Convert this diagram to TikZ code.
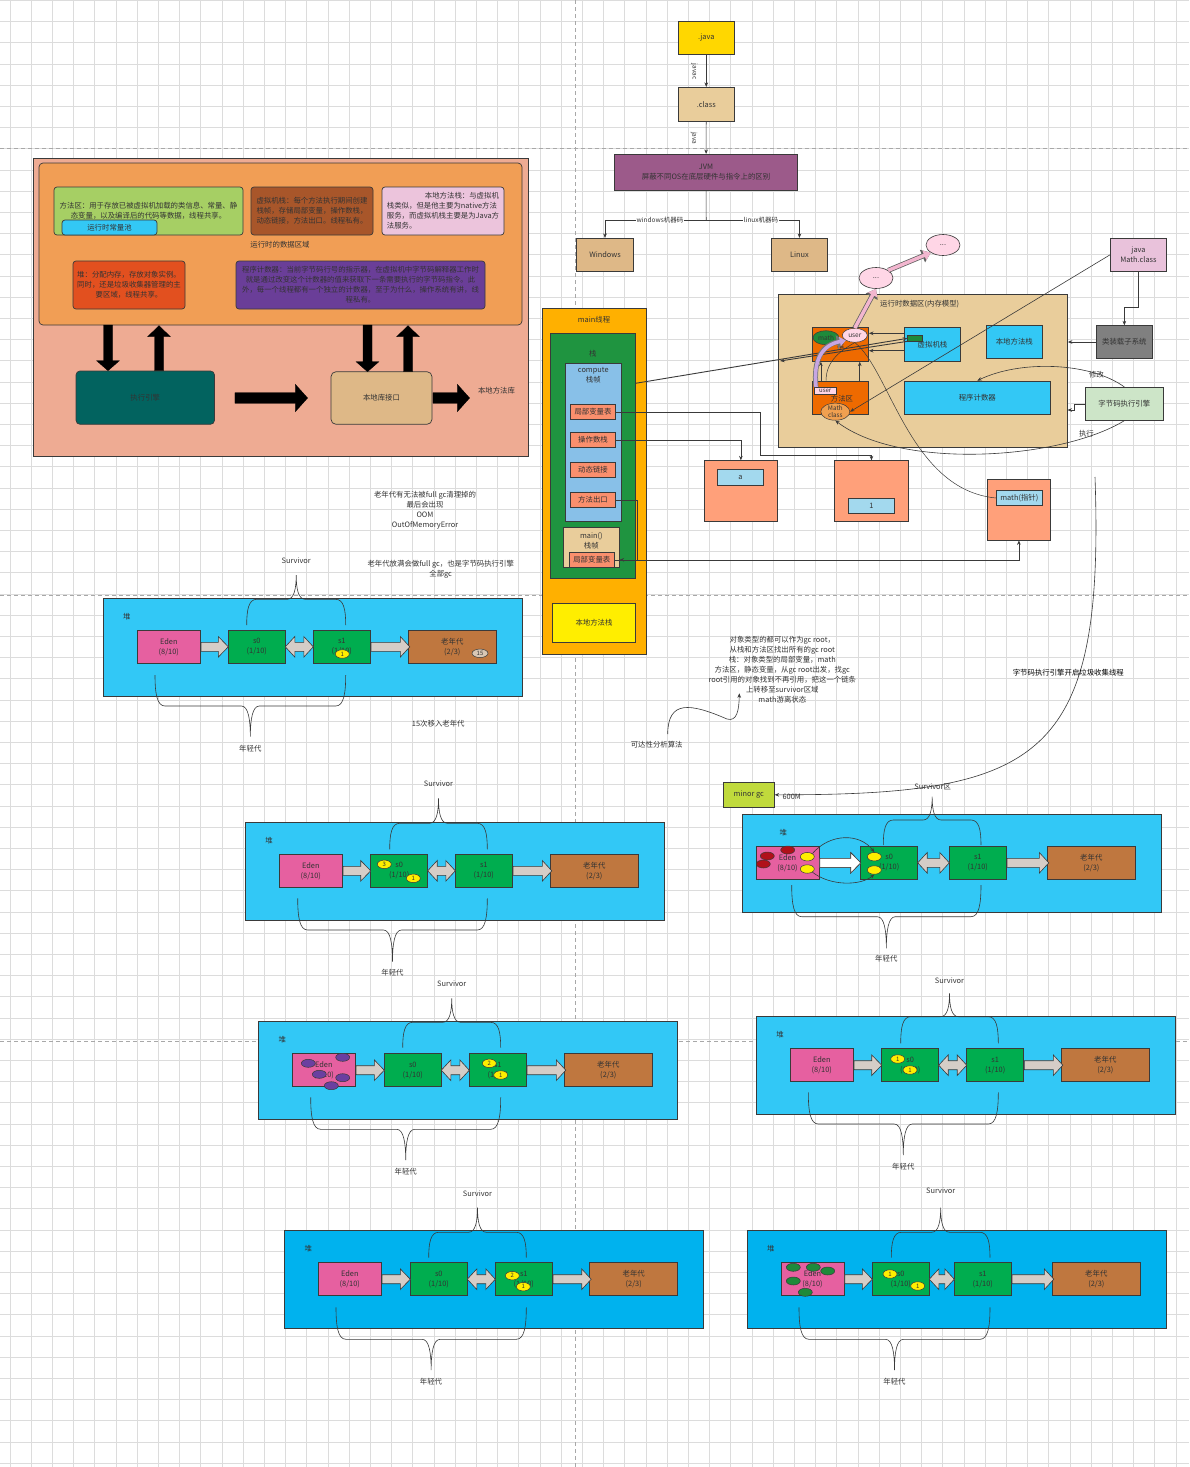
\documentclass[tikz,border=0pt]{standalone}
\usepackage{fontspec}
\setmainfont{Noto Sans CJK SC}
\usetikzlibrary{arrows.meta,shapes.geometric,calc}
\definecolor{txt}{HTML}{333333}
\definecolor{bord}{HTML}{3A3A3A}
\definecolor{gridc}{HTML}{DCDCDC}
\definecolor{dashc}{HTML}{A8A8A8}
\definecolor{salmonbg}{HTML}{EEAB93}
\definecolor{orangein}{HTML}{F19E55}
\definecolor{greenA}{HTML}{A6CF64}
\definecolor{cyanA}{HTML}{33C8F5}
\definecolor{brownA}{HTML}{A8562A}
\definecolor{pinkA}{HTML}{ECC4DC}
\definecolor{redA}{HTML}{E2501F}
\definecolor{purpleA}{HTML}{6A3E98}
\definecolor{tealA}{HTML}{02635F}
\definecolor{tanB}{HTML}{DEB887}
\definecolor{goldA}{HTML}{FFD700}
\definecolor{tanA}{HTML}{E9CD9B}
\definecolor{jvmc}{HTML}{9C5A8A}
\definecolor{pinkE}{HTML}{FFD6E6}
\definecolor{pinkM}{HTML}{E9C2DB}
\definecolor{orangeR}{HTML}{EE6A00}
\definecolor{orangeM}{HTML}{F0A050}
\definecolor{greenE}{HTML}{1E8A3A}
\definecolor{grayA}{HTML}{808080}
\definecolor{greenL}{HTML}{CDE5C8}
\definecolor{orangeT}{HTML}{FFB000}
\definecolor{greenS}{HTML}{1F9440}
\definecolor{blueC}{HTML}{88C0E8}
\definecolor{salmonV}{HTML}{FA8F6D}
\definecolor{yellowN}{HTML}{FFEE00}
\definecolor{salmonO}{HTML}{FFA07A}
\definecolor{blueI}{HTML}{A3D9EE}
\definecolor{limeA}{HTML}{C0DA3C}
\definecolor{heapc}{HTML}{32C8F6}
\definecolor{heapd}{HTML}{00B2EE}
\definecolor{edenc}{HTML}{E660A0}
\definecolor{survc}{HTML}{00AD4F}
\definecolor{oldc}{HTML}{BF773F}
\definecolor{garr}{HTML}{D5CDC7}
\definecolor{yelc}{HTML}{FFEE00}
\definecolor{purpE}{HTML}{6B3FA0}
\definecolor{redE}{HTML}{B0101A}
\definecolor{pinkArr}{HTML}{F2B6CF}
\definecolor{lavArr}{HTML}{C7A6E2}
\definecolor{ageC}{HTML}{D9C7B5}

% box from corners
\newcommand\bx[7]{\node[#6, minimum width={(#4)-(#2)}, minimum height={(#5)-(#3)}] (#1) at ({((#2)+(#4))/2},{((#3)+(#5))/2}) {#7};}
% block arrows
\newcommand\blockR[7]{\draw[#7] (#1,{(#3)-(#4)}) -- ({(#2)-(#6)},{(#3)-(#4)}) -- ({(#2)-(#6)},{(#3)-(#5)}) -- (#2,#3) -- ({(#2)-(#6)},{(#3)+(#5)}) -- ({(#2)-(#6)},{(#3)+(#4)}) -- (#1,{(#3)+(#4)}) -- cycle;}
\newcommand\blockLR[7]{\draw[#7] (#1,#3) -- ({(#1)+(#6)},{(#3)-(#5)}) -- ({(#1)+(#6)},{(#3)-(#4)}) -- ({(#2)-(#6)},{(#3)-(#4)}) -- ({(#2)-(#6)},{(#3)-(#5)}) -- (#2,#3) -- ({(#2)-(#6)},{(#3)+(#5)}) -- ({(#2)-(#6)},{(#3)+(#4)}) -- ({(#1)+(#6)},{(#3)+(#4)}) -- ({(#1)+(#6)},{(#3)+(#5)}) -- cycle;}
\newcommand\blockD[7]{\draw[#7] ({(#1)-(#4)},#2) -- ({(#1)+(#4)},#2) -- ({(#1)+(#4)},{(#3)-(#6)}) -- ({(#1)+(#5)},{(#3)-(#6)}) -- (#1,#3) -- ({(#1)-(#5)},{(#3)-(#6)}) -- ({(#1)-(#4)},{(#3)-(#6)}) -- cycle;}
\newcommand\blockU[7]{\draw[#7] ({(#1)-(#4)},#2) -- ({(#1)+(#4)},#2) -- ({(#1)+(#4)},{(#3)+(#6)}) -- ({(#1)+(#5)},{(#3)+(#6)}) -- (#1,#3) -- ({(#1)-(#5)},{(#3)+(#6)}) -- ({(#1)-(#4)},{(#3)+(#6)}) -- cycle;}
% curly brace: left x, right x, end y, base y, tip y
\newcommand\hbr[5]{%
 \pgfmathsetmacro\bcx{(#1+#2)/2}%
 \draw[brc] (#1,#3) .. controls (#1,{#4+0.4*(#3-#4)}) and ({#1+2},#4) .. ({#1+10},#4)
   -- ({\bcx-9},#4) .. controls ({\bcx-2},#4) and (\bcx,{#4+0.45*(#5-#4)}) .. (\bcx,#5)
   .. controls (\bcx,{#4+0.45*(#5-#4)}) and ({\bcx+2},#4) .. ({\bcx+9},#4)
   -- ({#2-10},#4) .. controls ({#2-2},#4) and (#2,{#4+0.4*(#3-#4)}) .. (#2,#3);}
% heap: prefix, box x, box y, eden x, s0 x, s1 x, old x, fill, dui offset
\newcommand\heap[9]{%
 \bx{#1box}{#2}{#3}{#2+419}{#3+98}{cell, fill=#8}{}
 \node (#1dui) at ({#2+#9},{#3+18}) {堆};
 \bx{#1eden}{#4}{#3+32}{#4+63}{#3+65}{cell, fill=edenc}{Eden\\(8/10)}
 \bx{#1sa}{#5}{#3+32}{#5+57}{#3+65}{cell, fill=survc}{s0\\(1/10)}
 \bx{#1sb}{#6}{#3+32}{#6+57}{#3+65}{cell, fill=survc}{s1\\(1/10)}
 \bx{#1old}{#7}{#3+32}{#7+88}{#3+65}{cell, fill=oldc}{老年代\\(2/3)}
 \blockR{#4+63.7}{#5}{#3+48.5}{4.5}{10.3}{10}{garrow}
 \blockLR{#5+57}{#6}{#3+48.5}{4.5}{10.3}{9.5}{garrow}
 \blockR{#6+57.7}{#7+1.5}{#3+48.5}{4.5}{10.3}{9.5}{garrow}
}

\begin{document}
\begin{tikzpicture}[x=1pt,y=-1pt,
  every node/.style={text=txt, font=\fontsize{7.4}{10}\selectfont, align=center},
  cell/.style={draw=bord, line width=0.7pt, inner sep=1pt},
  sml/.style={font=\fontsize{6.5}{7.5}\selectfont},
  conn/.style={draw=bord, line width=0.6pt},
  arr/.style={-{Stealth[length=4.5pt,width=3.6pt]}},
  blk/.style={fill=black, draw=black, line width=0.3pt},
  garrow/.style={fill=garr, draw=bord, line width=0.6pt},
  warrow/.style={fill=white, draw=bord, line width=0.6pt},
  brc/.style={draw=bord, line width=0.6pt},
  yel/.style={ellipse, draw=bord, fill=yelc, line width=0.5pt, minimum width=14pt, minimum height=8.5pt, inner sep=0pt, font=\fontsize{6}{6}\selectfont},
  dot/.style={ellipse, draw=bord, line width=0.5pt, minimum width=14pt, minimum height=8pt, inner sep=0pt},
  arrout/.style={draw=bord!80, line width=5pt, -{Triangle[length=9pt,width=13pt]}},
  pinkarr/.style={draw=pinkArr, line width=3.5pt, -{Triangle[length=7pt,width=10pt]}},
  lavarr/.style={draw=lavArr, line width=3.5pt, -{Triangle[length=6pt,width=9pt]}}
]
\useasboundingbox (0,0) rectangle (1189,1467);
\fill[white] (0,0) rectangle (1189,1467);
% grid
\foreach \i in {0,...,55} \draw[gridc, line width=0.6pt] ({9.9+21.2*\i},0) -- ({9.9+21.2*\i},1467);
\foreach \j in {0,...,69} \draw[gridc, line width=0.6pt] (0,{0.3+21.2*\j}) -- (1189,{0.3+21.2*\j});
\draw[dashc, dash pattern=on 4pt off 3pt, line width=0.6pt] (575.5,0) -- (575.5,1467);
\foreach \yy in {148,595,1041} \draw[dashc, dash pattern=on 4pt off 3pt, line width=0.6pt] (0,\yy) -- (1189,\yy);

% ---------------- top-left block ----------------
\bx{outer}{33}{158}{528}{456}{cell, fill=salmonbg}{}
\bx{inner}{39}{163}{522}{325}{cell, fill=orangein, rounded corners=4pt}{}
\bx{ffq}{54}{187}{243}{235}{cell, fill=greenA, rounded corners=3pt}{方法区：用于存放已被虚拟机加载的类信息、常量、静\\态变量，以及编译后的代码等数据，线程共享。}
\bx{pool}{62}{220}{157}{235}{cell, fill=cyanA, rounded corners=3pt}{运行时常量池}
\bx{vms}{251}{187}{373}{235}{cell, fill=brownA, rounded corners=3pt, align=left}{虚拟机栈：每个方法执行期间创建\\栈帧，存储局部变量，操作数栈，\\动态链接，方法出口。线程私有。}
\bx{nms}{382}{187}{504}{235}{cell, fill=pinkA, rounded corners=3pt, align=left}{\hspace*{38pt}本地方法栈：与虚拟机\\栈类似，但是他主要为native方法\\服务，而虚拟机栈主要是为Java方\\法服务。}
\node (rdl) at (280,245) {运行时的数据区域};
\bx{heapd}{73}{261}{185}{309}{cell, fill=redA, rounded corners=3pt}{堆：分配内存，存放对象实例。\\同时，还是垃圾收集器管理的主\\要区域，线程共享。}
\bx{pc}{236}{261}{485}{309}{cell, fill=purpleA, rounded corners=3pt}{程序计数器：当前字节码行号的指示器，在虚拟机中字节码解释器工作时\\就是通过改变这个计数器的值来获取下一条需要执行的字节码指令。此\\外，每一个线程都有一个独立的计数器，至于为什么，操作系统有讲，线\\程私有。}
\bx{exe}{76}{371}{214.5}{424.3}{cell, fill=tealA, rounded corners=4pt}{执行引擎}
\bx{nli}{331}{371.7}{432}{424.3}{cell, fill=tanB, rounded corners=5pt}{本地库接口}
\node (nlib) at (496.5,391) {本地方法库};
\blockD{108}{325}{370.7}{4.5}{11.4}{10}{blk}
\blockU{159}{370.7}{325.7}{4.5}{11.4}{11}{blk}
\blockD{367.5}{325}{371.7}{4.5}{11.4}{10}{blk}
\blockU{408}{371.7}{325.7}{4.5}{11.4}{11}{blk}
\blockR{234.9}{307.6}{398}{5.3}{13.7}{12.3}{blk}
\blockR{432.9}{469.6}{398}{5.3}{13.7}{12.3}{blk}

% ---------------- top-right: java -> JVM ----------------
\bx{java}{678}{21.7}{734.5}{54.3}{cell, fill=goldA}{.java}
\bx{cls}{678}{87.3}{734.5}{121.3}{cell, fill=tanA}{.class}
\bx{jvm}{614.4}{154.3}{797.7}{190.3}{cell, fill=jvmc}{JVM\\屏蔽不同OS在底层硬件与指令上的区别}
\bx{win}{576.5}{238.3}{633.5}{271.3}{cell, fill=tanB}{Windows}
\bx{linux}{771.3}{238.3}{827.6}{271.3}{cell, fill=tanB}{Linux}
\draw[conn,arr] (java) -- (cls);
\draw[conn,arr] (cls) -- (jvm);
\node[sml, rotate=-90] (jcl) at (694.4,71.7) {javac};
\node[sml, rotate=-90] (jl) at (694,138.3) {java};
\coordinate (jb) at (706.2,220);
\draw[conn] (jvm) -- (jb);
\draw[conn,arr] (jb) -| (win.north);
\draw[conn,arr] (jb) -| (linux.north);
\node[sml, fill=white, inner sep=0.4pt] (wl) at (660,220) {windows机器码};
\node[sml, fill=white, inner sep=0.4pt] (ll) at (761,220) {linux机器码};
\node[ellipse, draw=bord, line width=0.6pt, fill=pinkE, minimum width=34pt, minimum height=21pt, inner sep=0pt] (e1) at (876,278) {...};
\node[ellipse, draw=bord, line width=0.6pt, fill=pinkE, minimum width=34pt, minimum height=21pt, inner sep=0pt] (e2) at (943,245) {...};
\bx{mcls}{1110.4}{238.3}{1166.6}{271.3}{cell, fill=pinkM}{java\\Math.class}

% ---------------- runtime area ----------------
\bx{rt}{778.2}{294.3}{1067.5}{447.3}{cell, fill=tanA}{}
\node (rtl) at (919.7,304) {运行时数据区(内存模型)};
\bx{rheap}{812.4}{327.3}{868.6}{361.3}{cell, fill=orangeR}{}
\node (rhl) at (840.5,346) {堆};
\node[ellipse, draw=bord, line width=0.5pt, fill=greenE, minimum width=26pt, minimum height=14pt, inner sep=0pt, sml] (emath) at (826,337.7) {math};
\node[ellipse, draw=bord, line width=0.5pt, fill=pinkE, minimum width=25pt, minimum height=14pt, inner sep=0pt, sml] (euser) at (854.8,335.3) {user};
\bx{rmeth}{812.4}{381}{868.6}{414.3}{cell, fill=orangeR}{}
\node (rml) at (842,399) {方法区};
\bx{muser}{814.4}{387.3}{836.1}{394.7}{cell, fill=pinkE, inner sep=0pt, font=\fontsize{6}{6}\selectfont}{user}
\node[ellipse, draw=bord, line width=0.5pt, fill=orangeM, minimum width=29pt, minimum height=17pt, inner sep=0pt, font=\fontsize{6.3}{7}\selectfont] (emc) at (835.3,411.7) {Math\\class};
\bx{rvms}{904.4}{327.3}{960.6}{361.3}{cell, fill=cyanA}{虚拟机栈}
\bx{vmg}{907.6}{335.7}{922.5}{341}{cell, fill=greenE}{}
\bx{rnms}{986.4}{325.7}{1042.2}{358.3}{cell, fill=cyanA}{本地方法栈}
\bx{rpc}{904.4}{381}{1050.2}{414.3}{cell, fill=cyanA}{程序计数器}
\bx{cls2}{1096.4}{325.7}{1152.3}{358.3}{cell, fill=grayA}{类装载子系统}
\bx{bce}{1085.2}{387.3}{1163.5}{420.3}{cell, fill=greenL}{字节码执行引擎}

% ---------------- main thread ----------------
\bx{mt}{542.8}{308.3}{646.5}{654}{cell, fill=orangeT}{}
\node (mtl) at (594,319.3) {main线程};
\bx{stk}{550}{333.3}{635.6}{578.3}{cell, fill=greenS}{}
\node (stl) at (592.8,353.3) {栈};
\bx{cf}{565}{363.3}{621.6}{521}{cell, fill=blueC}{}
\node (cfl) at (593.3,375.7) {compute\\栈帧};
\bx{lv1}{570.5}{404.3}{615.5}{419.3}{cell, fill=salmonV}{局部变量表}
\bx{ops}{570.5}{432.3}{615.5}{447.3}{cell, fill=salmonV}{操作数栈}
\bx{dyn}{570.5}{462.3}{615.5}{477.3}{cell, fill=salmonV}{动态链接}
\bx{ret}{570.5}{492.3}{615.5}{507.3}{cell, fill=salmonV}{方法出口}
\bx{mf}{563.3}{527.3}{619.3}{567.3}{cell, fill=tanA}{}
\node (mfl) at (591.3,541) {main()\\栈帧};
\bx{lv2}{569.3}{552.3}{614.3}{567.3}{cell, fill=salmonV}{局部变量表}
\bx{nat}{552.3}{603.3}{635.7}{642.3}{cell, fill=yellowN}{本地方法栈}

% objects
\bx{ba}{704.7}{460.7}{777}{521}{cell, fill=salmonO}{}
\bx{ia}{717.6}{469.7}{763.4}{485.3}{cell, fill=blueI}{a}
\bx{b1}{834.5}{460.7}{908.4}{521}{cell, fill=salmonO}{}
\bx{i1}{848.6}{498.3}{894.4}{513.3}{cell, fill=blueI}{1}
\bx{bm}{987.6}{479.3}{1050.2}{540}{cell, fill=salmonO}{}
\bx{im}{996.4}{490.7}{1042.2}{505.3}{cell, fill=blueI}{math(指针)}

% connectors in the runtime area
\draw[conn,arr] (lv1.east) -| (760.2,455) -| (b1.north);
\draw[conn,arr] (ops.east) -| (ba.north);
\draw[conn,arr] (ret.east) -| (636.8,559.8) -- (lv2.east -| mf.east);
\draw[conn,arr] (lv2.east) -| (bm.south);
\coordinate (sk) at (635.6,383.3);
\coordinate (p1) at (780,361);
\draw[conn, line width=0.9pt, arr] (sk) -- (vmg.west);
\draw[conn, line width=0.9pt, arr] (vmg.south west) -- (p1);
\draw[conn,arr] ([yshift=11pt]rvms.west) -- ([yshift=11pt]rheap.east);
\draw[conn,arr] ([yshift=-6.4pt]rvms.west) -- ([yshift=-6.4pt]rheap.east);
\draw[conn,arr] ([xshift=8.8pt]rmeth.north west) -- ([xshift=8.8pt]rheap.south west);
\draw[conn,arr] ([xshift=-9.2pt]rmeth.north east) -- ([xshift=-9.2pt]rheap.south east);
\draw[conn,arr] (cls2.west) -- (cls2.west -| rt.east);
\draw[conn,arr] (mcls.south) -- ++(0,36) -| (cls2.north);
\coordinate (q1) at (1067.5,410);
\draw[conn,arr] (bce.west) -- ++(-11,0) |- (q1);
\draw[conn,arr] (mcls.west) -- (emc.east);
\draw[conn,arr] (bce.north) .. controls (1090,362) and (1020,360) .. (rpc.north);
\node (xg) at (1096.4,374.3) {修改};
\draw[conn,arr] (bce.south) .. controls (1060,460) and (900,470) .. (emc.south);
\node (zx) at (1086.4,433.3) {执行};
\draw[conn, line width=0.5pt] ([xshift=14pt]rmeth.north west) .. controls (826,360) and (842,350) .. (euser.south);
\draw[conn, line width=0.5pt] (euser.south) .. controls (890,370) and (910,490) .. (im.west);
\draw[arrout, draw=bord!70] ([xshift=2pt]muser.north west) .. controls (813,360) and (822,345) .. (euser.south west);
\draw[lavarr] ([xshift=2pt]muser.north west) .. controls (813,360) and (822,345) .. (euser.south west);
\draw[arrout] (euser.north) -- (e1.south);
\draw[pinkarr] (euser.north) -- (e1.south);
\draw[arrout] (e1.north east) -- (e2.south west);
\draw[pinkarr] (e1.north east) -- (e2.south west);

% minor gc
\bx{mgc}{723.3}{782.3}{774.3}{807.3}{cell, fill=limeA}{minor gc}
\coordinate (lc) at (1095,477);
\draw[conn,arr] (lc) .. controls (1105,760) and (1040,795) .. (mgc.east);
\node (m600) at (791.7,796.7) {600M};
\node[text=black] (zjq) at (1068.3,672.3) {字节码执行引擎开启垃圾收集线程};

% middle texts
\node (oom) at (425,510.5) {老年代有无法被full gc清理掉的\\最后会出现\\OOM\\OutOfMemoryError};
\node (fgc) at (440.7,569) {老年代放满会做full gc，也是字节码执行引擎\\全部gc};
\node (gcr) at (782.3,670) {对象类型的都可以作为gc root，\\从栈和方法区找出所有的gc root\\栈：对象类型的局部变量，math\\方法区，静态变量，从gc root出发，找gc\\root引用的对象找到不再引用，把这一个链条\\上转移至survivor区域\\math游离状态};
\node (kd) at (656.7,744.3) {可达性分析算法};
\coordinate (w0) at (667.7,734);
\coordinate (w1) at (739.3,693.3);
\draw[conn,arr] (w0) .. controls (668,700) and (690,703) .. (727,719) .. controls (737,722) and (739,710) .. (w1);
\node (m15) at (438.3,723.3) {15次移入老年代};

% ---------------- heaps ----------------
\heap{ha}{103.3}{598.3}{137.3}{228.3}{313.3}{408.3}{heapc}{23.4}
\heap{hb}{245.7}{822.3}{279.3}{370.7}{455.3}{550.3}{heapc}{23.3}
\heap{hc}{258.3}{1021.7}{292.3}{384.3}{469.3}{564.3}{heapc}{24}
\heap{hd}{742.3}{814.3}{756}{860.7}{949.3}{1047.3}{heapc}{41}
\heap{he}{756.7}{1016.7}{790.3}{881.7}{966.7}{1061.3}{heapc}{23.3}
\heap{hf}{284.3}{1230.7}{318.3}{410.3}{495.3}{589.7}{heapd}{24}
\heap{hg}{747.7}{1230.7}{781}{872.3}{954.3}{1052.3}{heapd}{23}
\blockR{819.7}{860.7}{862.8}{4.5}{10.3}{10}{warrow}

% braces and labels
\hbr{246.7}{345.7}{625}{599.3}{575}
\node (hasv) at (296.2,561) {Survivor};
\hbr{155}{345.7}{675}{706}{736.7}
\node (hayg) at (250.3,749) {年轻代};
\hbr{389.7}{487.3}{849.3}{823.3}{798.3}
\node (hbsv) at (438.5,784) {Survivor};
\hbr{297.7}{487.3}{898.3}{930}{961.7}
\node (hbyg) at (392.5,973) {年轻代};
\hbr{402.7}{500.7}{1047.7}{1022.3}{998.3}
\node (hcsv) at (451.7,984) {Survivor};
\hbr{310.7}{500.7}{1097.3}{1129.3}{1160}
\node (hcyg) at (405.7,1172) {年轻代};
\hbr{883.3}{981}{845}{820}{796.7}
\node (hdsv) at (932.7,786.7) {Survivor区};
\hbr{791.7}{981}{885}{916.7}{948.3}
\node (hdyg) at (886.3,959) {年轻代};
\hbr{900.7}{998.3}{1043.3}{1016.7}{993.3}
\node (hesv) at (949.5,981) {Survivor};
\hbr{808.3}{998.3}{1092.3}{1124}{1155}
\node (heyg) at (903.3,1167) {年轻代};
\hbr{428.7}{526.3}{1257.7}{1232.3}{1207.7}
\node (hfsv) at (477.5,1194) {Survivor};
\hbr{336}{526.3}{1307.3}{1339.3}{1370}
\node (hfyg) at (431,1382) {年轻代};
\hbr{891.3}{990}{1257.7}{1232.3}{1207.7}
\node (hgsv) at (940.7,1191) {Survivor};
\hbr{799}{990}{1307.3}{1339.3}{1370}
\node (hgyg) at (894.5,1382) {年轻代};

% objects inside heaps
\node[yel] (hay1) at (342.3,654) {1};
\node[yel, fill=ageC, minimum width=16pt] (ha15) at (480,653.3) {15};
\node[yel] (hby1) at (384.3,864.3) {3};
\node[yel] (hby2) at (413.3,878.3) {1};
\node[dot, fill=purpE] (hcp1) at (308.3,1063.3) {};
\node[dot, fill=purpE] (hcp2) at (342.7,1057.3) {};
\node[dot, fill=purpE] (hcp3) at (319.3,1074.3) {};
\node[dot, fill=purpE] (hcp4) at (342.7,1077.7) {};
\node[dot, fill=purpE] (hcp5) at (331.3,1085.7) {};
\node[yel] (hcy1) at (489.3,1063.3) {2};
\node[yel] (hcy2) at (500.7,1075) {1};
\node[dot, fill=redE] (hdr1) at (767.3,856) {};
\node[dot, fill=redE] (hdr2) at (787.7,850) {};
\node[dot, fill=redE] (hdr3) at (763.3,864) {};
\node[yel] (hdy1) at (807.3,856.7) {};
\node[yel] (hdy2) at (807.3,869) {};
\node[yel] (hdy3) at (874.3,856.7) {};
\node[yel] (hdy4) at (874.3,870) {};
\draw[conn,arr] (hdy1.north east) .. controls (830,833) and (860,833) .. (hdy3.north);
\draw[conn,arr] (hdy2.south east) .. controls (830,886) and (860,886) .. (hdy4.south);
\node[yel] (hey1) at (897.7,1059) {1};
\node[yel] (hey2) at (910,1070) {1};
\node[yel] (hfy1) at (512.3,1275.7) {2};
\node[yel] (hfy2) at (523.3,1286.7) {1};
\node[dot, fill=greenE] (hgg1) at (793.3,1267.3) {};
\node[dot, fill=greenE] (hgg2) at (813.3,1267.3) {};
\node[dot, fill=greenE] (hgg3) at (827.7,1271) {};
\node[dot, fill=greenE] (hgg4) at (793.3,1281) {};
\node[dot, fill=greenE] (hgg5) at (805.3,1292.3) {};
\node[yel] (hgy1) at (890,1274) {1};
\node[yel] (hgy2) at (917.7,1286) {1};
\end{tikzpicture}
\end{document}
